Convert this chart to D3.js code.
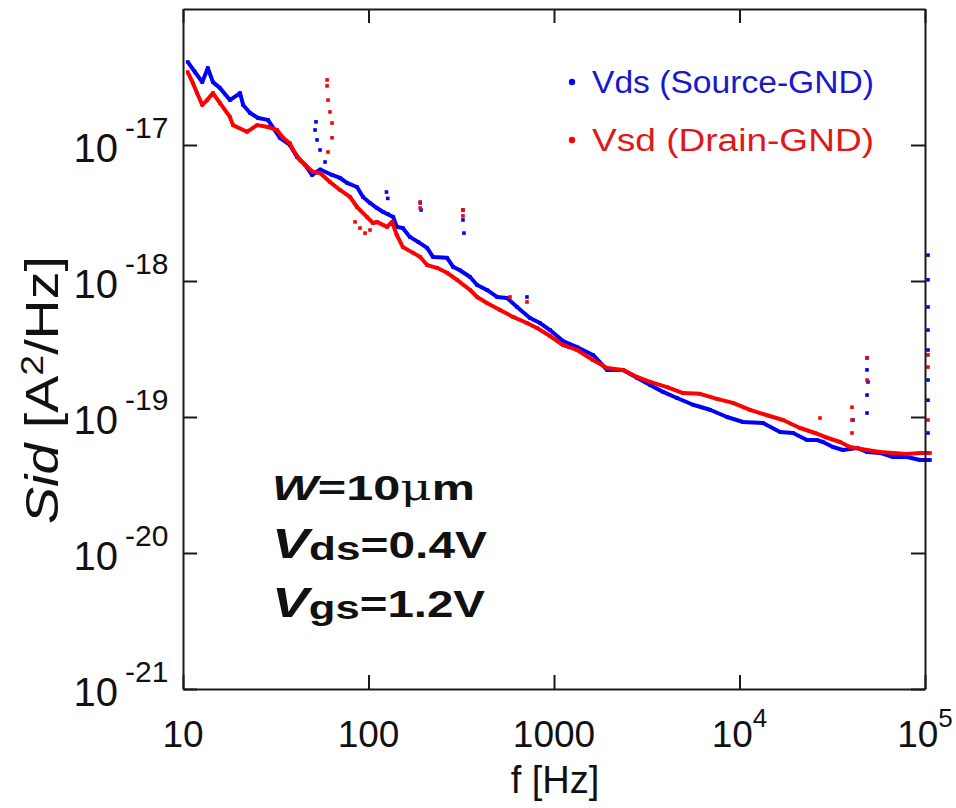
<!DOCTYPE html>
<html>
<head>
<meta charset="utf-8">
<script src="https://cdn.jsdelivr.net/npm/d3@7"></script>
<style>
  body { margin: 0; background: #fff; }
  svg text { font-family: "Liberation Sans", Arial, sans-serif; fill: #111; }
</style>
</head>
<body>
<div id="chart"></div>
<script>
// noise.js

const width = 956;
const height = 808;

// f [Hz], Sid [A^2/Hz]
const vdsBand = [
  [10.6, 4.08e-17], [11.6, 3.44e-17], [12.7, 2.90e-17], [13.6, 3.68e-17], [14.5, 2.90e-17],
  [15.8, 2.63e-17], [17.9, 2.14e-17], [20.3, 2.41e-17], [21.1, 1.97e-17], [23.0, 1.72e-17],
  [25.4, 1.58e-17], [28.7, 1.53e-17], [33.3, 1.13e-17], [37.7, 1.00e-17], [41.2, 8.16e-18],
  [45.5, 7.13e-18], [49.6, 6.02e-18], [55.0, 6.6e-18], [63.6, 6.02e-18], [70.2, 5.72e-18],
  [76.6, 5.26e-18], [86.7, 4.91e-18], [93.4, 4.15e-18], [101.9, 3.75e-18], [111, 3.44e-18],
  [120, 3.22e-18], [127, 3.10e-18], [136, 2.95e-18], [142, 2.50e-18], [153, 2.45e-18],
  [167, 2.11e-18], [185, 1.94e-18], [207, 1.75e-18], [223, 1.50e-18], [265, 1.48e-18],
  [286, 1.27e-18], [311, 1.20e-18], [353, 1.07e-18], [385, 9.35e-19], [435, 8.59e-19],
  [493, 7.63e-19], [558, 7.50e-19], [632, 6.44e-19], [742, 5.35e-19], [841, 4.91e-19],
  [952, 4.36e-19], [1118, 3.62e-19], [1330, 3.27e-19], [1623, 2.86e-19], [1931, 2.22e-19],
  [2355, 2.22e-19], [2801, 1.94e-19], [3293, 1.72e-19], [3868, 1.53e-19], [4604, 1.38e-19],
  [5616, 1.23e-19], [6934, 1.13e-19], [8563, 1.00e-19], [10445, 9.19e-20], [13390, 9.03e-20],
  [16540, 7.76e-20], [19430, 7.63e-20], [23120, 6.77e-20], [26170, 6.77e-20], [28190, 6.55e-20],
  [31920, 6.02e-20], [36140, 5.72e-20], [42990, 5.92e-20], [48680, 5.53e-20], [57200, 5.44e-20],
  [67230, 5.08e-20], [79980, 5.08e-20], [93980, 4.83e-20], [106400, 4.83e-20]
];

const vdsSpikes = [
  [52.1, 1.48e-17], [51.5, 1.29e-17], [52.8, 1.09e-17], [54.8, 9.19e-18], [58.3, 7.50e-18],
  [125, 4.51e-18], [127, 4.05e-18],
  [190, 3.75e-18], [192, 3.33e-18], [323, 3.33e-18], [323, 2.81e-18], [327, 2.25e-18],
  [715, 7.63e-19], [40920, 9.50e-20],
  [48680, 2.72e-19], [48680, 2.22e-19], [49290, 1.81e-19], [48680, 1.45e-19], [48680, 1.07e-19],
  [103800, 1.55e-18], [103800, 1.02e-18], [103800, 6.44e-19], [103800, 4.36e-19],
  [103800, 3.11e-19], [103800, 1.87e-19], [103800, 1.33e-19], [103800, 7.63e-20]
];

const vsdBand = [
  [10.6, 3.44e-17], [11.3, 2.86e-17], [11.9, 2.41e-17], [12.7, 1.97e-17], [13.5, 2.14e-17],
  [14.5, 2.41e-17], [15.8, 2.04e-17], [17.9, 1.61e-17], [18.6, 1.40e-17], [22.1, 1.25e-17],
  [25.1, 1.40e-17], [28.4, 1.36e-17], [32.1, 1.29e-17], [34.6, 1.13e-17], [37.7, 1.03e-17],
  [39.2, 9.19e-18], [42.7, 7.76e-18], [50.2, 6.33e-18], [54.8, 6.23e-18], [62.0, 5.35e-18],
  [70.2, 4.67e-18], [79.5, 4.15e-18], [86.7, 3.50e-18], [98.2, 2.95e-18], [105.7, 2.67e-18],
  [111, 2.72e-18], [126, 2.50e-18], [134, 2.72e-18], [142, 2.18e-18], [153, 1.78e-18],
  [174, 1.61e-18], [190, 1.50e-18], [207, 1.31e-18], [234, 1.25e-18], [265, 1.15e-18],
  [300, 1.02e-18], [353, 8.59e-19], [385, 7.63e-19], [435, 6.89e-19], [512, 6.12e-19],
  [601, 5.44e-19], [715, 4.91e-19], [810, 4.51e-19], [952, 3.94e-19], [1118, 3.38e-19],
  [1330, 3.11e-19], [1623, 2.62e-19], [1931, 2.29e-19], [2355, 2.22e-19], [2801, 1.97e-19],
  [3293, 1.81e-19], [4066, 1.66e-19], [4960, 1.50e-19], [6126, 1.48e-19], [7563, 1.36e-19],
  [9226, 1.27e-19], [11390, 1.13e-19], [14070, 1.03e-19], [17160, 9.50e-20], [21190, 8.30e-20],
  [25530, 7.63e-20], [28900, 7.13e-20], [34830, 6.55e-20], [39410, 6.02e-20], [48680, 5.72e-20],
  [57200, 5.53e-20], [67230, 5.44e-20], [79980, 5.35e-20], [93980, 5.44e-20], [106400, 5.44e-20]
];

const vsdSpikes = [
  [59.8, 3.01e-17], [59.8, 2.72e-17], [60.5, 2.14e-17], [62.0, 1.75e-17], [63.6, 1.45e-17],
  [63.6, 1.13e-17], [60.5, 8.88e-18],
  [84.6, 2.72e-18], [90.0, 2.45e-18], [95.8, 2.25e-18], [101.9, 2.37e-18],
  [190, 3.81e-18], [190, 3.44e-18], [323, 3.33e-18], [323, 3.01e-18],
  [579, 7.63e-19], [715, 7.01e-19], [27160, 9.83e-20],
  [40410, 1.18e-19], [40410, 9.50e-20], [40410, 7.63e-20],
  [48680, 2.72e-19], [48680, 1.87e-19],
  [103800, 2.86e-19], [103800, 2.33e-19], [103800, 9.50e-20]
];

const seriesNames = ["Vds (Source-GND)", "Vsd (Drain-GND)"];
const seriesColors = ["#0000ff", "#ff0000"];
const legendTextColors = ["#1818cc", "#e01818"];

const xTicks = [10, 100, 1000, 1e4, 1e5];
const xTickBase = ["10", "100", "1000", "10", "10"];
const xTickExp = ["", "", "", "4", "5"];
const yTicks = [1e-17, 1e-18, 1e-19, 1e-20, 1e-21];
const yTickExp = ["-17", "-18", "-19", "-20", "-21"];

const plot = { left: 183, right: 925, top: 9, bottom: 689 };

const svg = d3.select("#chart")
    .append("svg")
    .attr("width", width)
    .attr("height", height);

const x = d3.scaleLog().domain([10, 1e5]).range([plot.left, plot.right]);
const y = d3.scaleLog().domain([1e-21, 1e-16]).range([plot.bottom, plot.top]);

// Data
const line = d3.line().x(d => x(d[0])).y(d => y(d[1]));

const series = [
    { band: vdsBand, spikes: vdsSpikes, color: seriesColors[0] },
    { band: vsdBand, spikes: vsdSpikes, color: seriesColors[1] }
];

series.forEach(s => {
    svg.append("path")
        .datum(s.band)
        .attr("fill", "none")
        .attr("stroke", s.color)
        .attr("stroke-width", 4)
        .attr("stroke-linejoin", "round")
        .attr("d", line);

    svg.append("g")
        .selectAll("rect")
        .data(s.band.concat(s.spikes))
        .join("rect")
        .attr("x", d => x(d[0]) - 1.8)
        .attr("y", d => y(d[1]) - 1.8)
        .attr("width", 3.6)
        .attr("height", 3.6)
        .attr("fill", s.color);
});

// Axes, ticks pointing inward on all four sides
const tick = 14;
svg.append("g")
    .attr("transform", `translate(0,${plot.bottom})`)
    .call(d3.axisBottom(x).tickValues(xTicks).tickFormat("").tickSizeInner(-tick).tickSizeOuter(0));
svg.append("g")
    .attr("transform", `translate(0,${plot.top})`)
    .call(d3.axisTop(x).tickValues(xTicks).tickFormat("").tickSizeInner(-tick).tickSizeOuter(0));
svg.append("g")
    .attr("transform", `translate(${plot.left},0)`)
    .call(d3.axisLeft(y).tickValues(yTicks).tickFormat("").tickSizeInner(-tick).tickSizeOuter(0));
svg.append("g")
    .attr("transform", `translate(${plot.right},0)`)
    .call(d3.axisRight(y).tickValues(yTicks).tickFormat("").tickSizeInner(-tick).tickSizeOuter(0));

svg.selectAll(".domain, .tick line")
    .attr("stroke", "#1a1a1a")
    .attr("stroke-width", 2);

// Tick labels
xTicks.forEach((v, i) => {
    const t = svg.append("text")
        .attr("x", x(v))
        .attr("y", 747)
        .attr("text-anchor", "middle")
        .attr("font-size", 37)
        .text(xTickBase[i]);
    if (xTickExp[i]) {
        t.append("tspan")
            .attr("dy", -20)
            .attr("font-size", 26)
            .text(xTickExp[i]);
    }
});

yTicks.forEach((v, i) => {
    svg.append("text")
        .attr("x", 118)
        .attr("y", y(v) + 17)
        .attr("text-anchor", "end")
        .attr("font-size", 40)
        .text("10");
    svg.append("text")
        .attr("x", 125)
        .attr("y", y(v) - 7)
        .attr("font-size", 30)
        .text(yTickExp[i]);
});

// Axis titles
svg.append("text")
    .attr("x", 555)
    .attr("y", 793)
    .attr("text-anchor", "middle")
    .attr("font-size", 38)
    .text("f [Hz]");

const yt = svg.append("text")
    .attr("transform", "translate(58,390) rotate(-90)")
    .attr("text-anchor", "middle")
    .attr("font-size", 46)
    .attr("textLength", 268)
    .attr("lengthAdjust", "spacingAndGlyphs");
yt.append("tspan").attr("font-style", "italic").text("Sid");
yt.append("tspan").text(" [A");
yt.append("tspan").attr("font-size", 31).attr("dy", -15).text("2");
yt.append("tspan").attr("dy", 15).text("/Hz]");

// Legend
seriesNames.forEach((name, i) => {
    const ly = 82 + i * 58;
    svg.append("circle")
        .attr("cx", 572)
        .attr("cy", ly)
        .attr("r", 3.2)
        .attr("fill", seriesColors[i]);
    svg.append("text")
        .attr("x", 592)
        .attr("y", ly + 11)
        .attr("font-size", 31)
        .attr("textLength", 282)
        .attr("lengthAdjust", "spacingAndGlyphs")
        .style("fill", legendTextColors[i])
        .text(name);
});

// Bias conditions
const note = svg.append("g").attr("font-weight", "bold");
const l1 = note.append("text")
    .attr("x", 272).attr("y", 500).attr("font-size", 35)
    .attr("textLength", 203).attr("lengthAdjust", "spacingAndGlyphs");
l1.append("tspan").attr("font-style", "italic").text("W");
l1.append("tspan").text("=10");
l1.append("tspan").attr("font-weight", "normal").attr("font-family", "DejaVu Serif").text("μ");
l1.append("tspan").text("m");

[["ds", "=0.4V", 558, 215], ["gs", "=1.2V", 617, 213]].forEach(([sub, val, by, len]) => {
    const t = note.append("text")
        .attr("x", 272).attr("y", by).attr("font-size", 37)
        .attr("textLength", len).attr("lengthAdjust", "spacingAndGlyphs");
    t.append("tspan").attr("font-style", "italic").attr("font-size", 43).text("V");
    t.append("tspan").attr("font-size", 34).attr("dy", 2).text(sub);
    t.append("tspan").attr("dy", -2).text(val);
});
</script>
</body>
</html>
